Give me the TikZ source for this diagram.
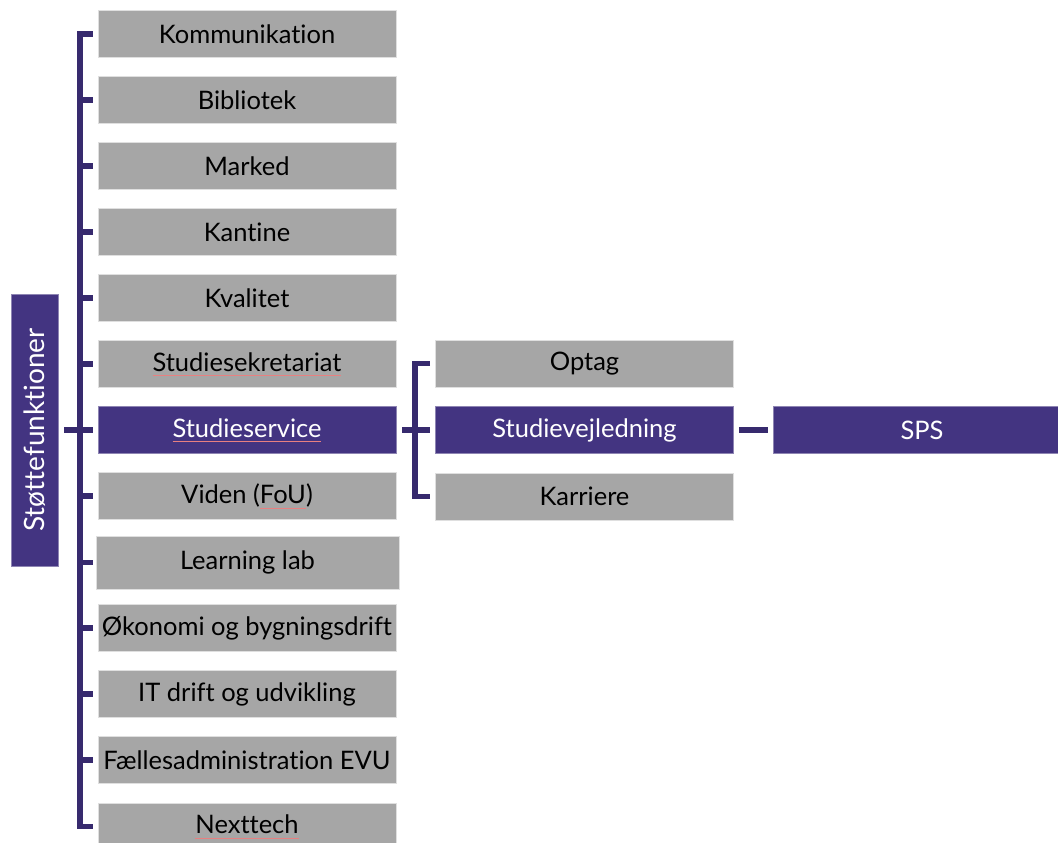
\documentclass[tikz,border=0pt]{standalone}
\usepackage{fontspec}
\setmainfont{Lato}[Ligatures=NoCommon]
\definecolor{purp}{HTML}{433481}
\definecolor{lpurp}{HTML}{372A6E}
\definecolor{boxgray}{HTML}{A6A6A6}
\definecolor{sqred}{HTML}{E88080}
\newcommand\sq[1]{\setbox0\hbox{#1}\rlap{\color{sqred}\rule[-4.5pt]{\wd0}{0.5pt}}\box0}
\tikzset{
  gbox/.style={fill=boxgray, draw=gray!25, line width=0.6pt, minimum width=298pt, minimum height=47pt, inner sep=0pt, font=\fontsize{25.5}{30}\selectfont, text=black},
  pbox/.style={gbox, fill=purp, draw=purp!60!white, text=white},
  conn/.style={draw=lpurp, line width=5.5pt},
}
\begin{document}
\begin{tikzpicture}[x=1pt,y=-1pt]
\useasboundingbox (0,0) rectangle (1058,843);
\clip (0,0) rectangle (1058,843);
\node[pbox, minimum width=272pt, rotate=90, font=\fontsize{28}{32}\selectfont] (stf) at (34.5,430) {Støttefunktioner};
\node[gbox] (kom) at (247,34) {Kommunikation};
\node[gbox] (bib) at (247,100) {Bibliotek};
\node[gbox] (mar) at (247,166) {Marked};
\node[gbox] (kan) at (247,232) {Kantine};
\node[gbox] (kva) at (247,298) {Kvalitet};
\node[gbox] (sek) at (247,364) {\sq{Studiesekretariat}};
\node[pbox] (sse) at (247,430) {\sq{Studieservice}};
\node[gbox] (vid) at (247,496) {Viden (\sq{FoU})};
\node[gbox, minimum width=303pt, minimum height=53pt] (lea) at (247.5,562.5) {Learning lab};
\node[gbox] (oko) at (247,628) {Økonomi og bygningsdrift};
\node[gbox] (itd) at (247,694) {IT drift og udvikling};
\node[gbox] (fae) at (247,760) {Fællesadministration EVU};
\node[gbox] (nex) at (247,826.5) {\sq{Nexttech}};
\node[gbox] (opt) at (584.5,363.5) {Optag};
\node[pbox] (svj) at (584.5,430) {Studievejledning};
\node[gbox] (kar) at (584.5,496.5) {Karriere};
\node[pbox] (sps) at (922,430) {SPS};
\coordinate (bus) at (80,0);
\coordinate (bus2) at (415,0);
% main bracket
\draw[conn] ([xshift=-5pt]kom.west) -| (nex.west -| bus) -- ([xshift=-5pt]nex.west);
\foreach \n in {bib,mar,kan,kva,sek,sse,vid,oko,itd,fae}
  \draw[conn] (\n.west -| bus) -- ([xshift=-5pt]\n.west);
\draw[conn] (lea.west -| bus) -- ([xshift=-3pt]lea.west);
\draw[conn] ([xshift=6pt]stf.south) -- (stf.south -| bus);
% second bracket
\draw[conn] ([xshift=-5pt]opt.west) -| (kar.west -| bus2) -- ([xshift=-5pt]kar.west);
\draw[conn] ([xshift=6pt]sse.east) -- (sse.east -| bus2);
\draw[conn] (svj.west -| bus2) -- ([xshift=-5pt]svj.west);
% to SPS
\draw[conn] ([xshift=5pt]svj.east) -- ([xshift=-5pt]sps.west);
\end{tikzpicture}
\end{document}
